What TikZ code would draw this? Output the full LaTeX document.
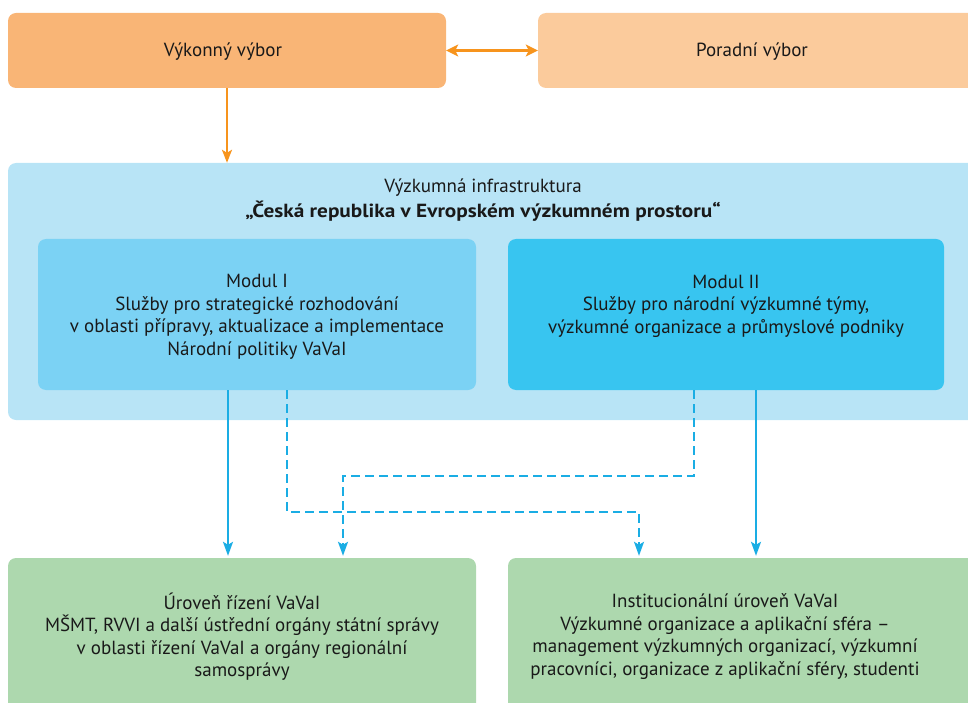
\documentclass[tikz,border=0pt]{standalone}
\usepackage{fontspec}
\setmainfont{PT Sans}
\usetikzlibrary{arrows.meta}
\definecolor{orA}{HTML}{F9B576}
\definecolor{orB}{HTML}{FBCB9C}
\definecolor{orL}{HTML}{F7941D}
\definecolor{infra}{HTML}{B8E4F6}
\definecolor{modA}{HTML}{7BD2F4}
\definecolor{modB}{HTML}{38C5F0}
\definecolor{grn}{HTML}{ADD8AE}
\definecolor{blu}{HTML}{1AADE4}
\begin{document}
\begin{tikzpicture}[x=1pt,y=-1pt,
 box/.style={rounded corners=8pt, inner sep=0pt, draw=none, rectangle},
 txt/.style={align=center, font=\fontsize{19}{22.5}\selectfont, inner sep=0pt, text=black!90},
 oarr/.style={draw=orL, line width=2pt, -{Stealth[length=13pt,width=10pt,inset=3pt]}},
 odarr/.style={draw=orL, line width=3pt, {Stealth[length=12pt,width=12pt,inset=3pt]}-{Stealth[length=12pt,width=12pt,inset=3pt]}},
 barr/.style={draw=blu, line width=2pt, -{Stealth[length=14pt,width=10pt,inset=3pt]}, shorten >=2pt},
 dbarr/.style={barr, dash pattern=on 9pt off 5pt}
]
\useasboundingbox (0,0) rectangle (968,703);
\clip (0,0) rectangle (968,703);
% boxes
\node[box, fill=orA, minimum width=438pt, minimum height=75pt] (vyk) at (227,50.5) {};
\node[box, fill=orB, minimum width=450pt, minimum height=75pt] (por) at (763,50.5) {};
\node[box, fill=infra, minimum width=980pt, minimum height=257pt] (infra) at (498,291.5) {};
\node[box, fill=modA, minimum width=438pt, minimum height=151pt] (modA) at (257,314.5) {};
\node[box, fill=modB, minimum width=436pt, minimum height=151pt] (modB) at (726,314.5) {};
\node[box, fill=grn, minimum width=468pt, minimum height=160pt] (uro) at (242,638) {};
\node[box, fill=grn, minimum width=480pt, minimum height=160pt] (inst) at (748,638) {};
% texts
\node[txt] (vykT) at (223,51.5) {Výkonný výbor};
\node[txt] (porT) at (752,51.5) {Poradní výbor};
\node[txt, font=\fontsize{19}{25}\selectfont] (infraT) at (483,200) {Výzkumná infrastruktura\\\textbf{\addfontfeature{FakeStretch=1.12}„Česká republika v Evropském výzkumném prostoru“}};
\node[txt] (modAT) at (257,317) {Modul I\\Služby pro strategické rozhodování\\v oblasti přípravy, aktualizace a implementace\\Národní politiky VaVaI};
\node[txt] (modBT) at (726,306) {Modul II\\Služby pro národní výzkumné týmy,\\výzkumné organizace a průmyslové podniky};
\node[txt] (uroT) at (242,636.5) {Úroveň řízení VaVaI\\MŠMT, RVVI a další ústřední orgány státní správy\\v oblasti řízení VaVaI a orgány regionální\\samosprávy};
\node[txt] (instT) at (725,636.5) {Institucionální úroveň VaVaI\\Výzkumné organizace a aplikační sféra –\\management výzkumných organizací, výzkumní\\pracovníci, organizace z aplikační sféry, studenti};
% helper coordinates
\coordinate (x1) at (228,0);
\coordinate (x2) at (287,0);
\coordinate (x3) at (639,0);
\coordinate (x4) at (694,0);
\coordinate (x5) at (343,0);
\coordinate (x6) at (756,0);
\coordinate (y1) at (0,512);
\coordinate (y2) at (0,476);
% connectors
\draw[odarr] (vyk.east) -- (por.west);
\draw[oarr] (vyk.south) -- (infra.north -| vyk.south);
\draw[barr] (modA.south -| x1) -- (uro.north -| x1);
\draw[dbarr] (modA.south -| x2) |- (y1 -| x3) -- (inst.north -| x3);
\draw[dbarr] (modB.south -| x4) |- (y2 -| x5) -- (uro.north -| x5);
\draw[barr] (modB.south -| x6) -- (inst.north -| x6);
\end{tikzpicture}
\end{document}
